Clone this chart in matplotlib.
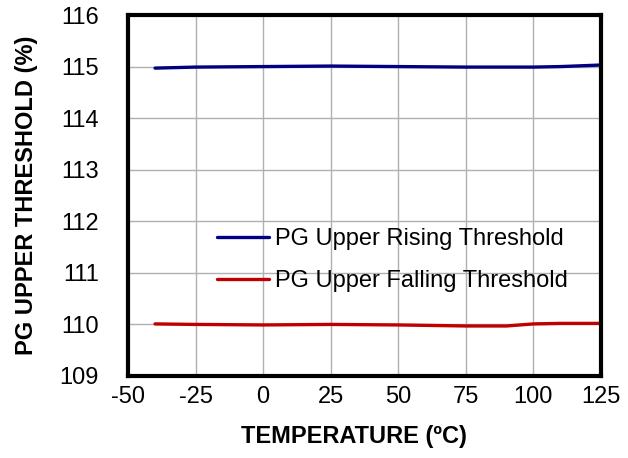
import matplotlib
matplotlib.use("Agg")
import matplotlib.pyplot as plt

temps = [-40, -25, 0, 25, 50, 75, 90, 100, 110, 125]
rising = [114.97, 114.99, 115.0, 115.01, 115.0, 114.99, 114.99, 114.99, 115.0, 115.03]
falling = [110.01, 110.0, 109.99, 110.0, 109.99, 109.97, 109.97, 110.01, 110.02, 110.02]

xticks = [-50, -25, 0, 25, 50, 75, 100, 125]
yticks = [109, 110, 111, 112, 113, 114, 115, 116]

plt.rcParams['font.family'] = ['Liberation Sans', 'DejaVu Sans']
plt.rcParams['axes.unicode_minus'] = False

fig = plt.figure(figsize=(6.28, 4.58), dpi=100)
L, R, T, B = 128, 601, 15, 376
ax = fig.add_axes([L/628, 1-B/458, (R-L)/628, (B-T)/458])

ax.plot(temps, rising, color='#000080', lw=2.4, label='PG Upper Rising Threshold', solid_capstyle='round')
ax.plot(temps, falling, color='#C00000', lw=2.4, label='PG Upper Falling Threshold', solid_capstyle='round')

ax.set_xlim(-50, 125)
ax.set_ylim(109, 116)
ax.set_xticks(xticks)
ax.set_yticks(yticks)
ax.grid(True, color='#b0b0b0', lw=1)
ax.set_axisbelow(True)
ax.tick_params(axis='both', length=0, labelsize=17)
ax.tick_params(axis='x', pad=7)
ax.tick_params(axis='y', pad=21)
for s in ax.spines.values():
    s.set_linewidth(3)
    s.set_color('black')

ax.set_xlabel('TEMPERATURE (ºC)', fontsize=17, fontweight='bold', va='center')
ax.set_ylabel('PG UPPER THRESHOLD (%)', fontsize=17, fontweight='bold', va='center')
ax.xaxis.set_label_coords((354 - L) / (R - L), (B - 437) / (B - T))
ax.yaxis.set_label_coords((27 - L) / (R - L), 0.5)

leg = ax.legend(loc='center left', bbox_to_anchor=((217 - L) / (R - L), (B - 260) / (B - T)),
                frameon=False, fontsize=17, borderaxespad=0, borderpad=0,
                handlelength=2.2, handletextpad=0.25, labelspacing=0.84)
leg.set_zorder(5)

fig.savefig('out.png', dpi=100)
